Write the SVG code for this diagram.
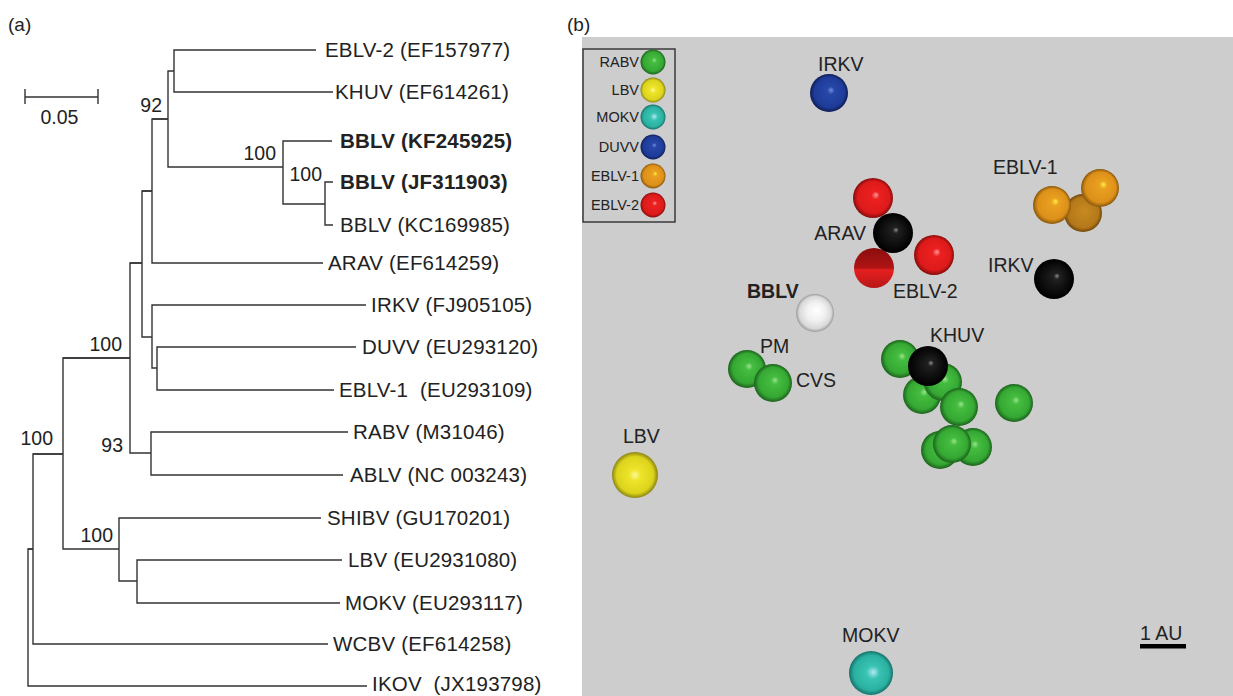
<svg xmlns="http://www.w3.org/2000/svg" width="1233" height="696" viewBox="0 0 1233 696">
<style>
.t{font-family:"Liberation Sans",Arial,sans-serif;font-size:20.5px;letter-spacing:0.2px;fill:#222;white-space:pre}
.b{font-weight:bold}
.bs{font-family:"Liberation Sans",Arial,sans-serif;font-size:19.5px;fill:#222;text-anchor:end}
.pl{font-family:"Liberation Sans",Arial,sans-serif;font-size:19px;fill:#222}
.lg{font-family:"Liberation Sans",Arial,sans-serif;font-size:14.5px;fill:#222;text-anchor:end}
.sb{font-family:"Liberation Sans",Arial,sans-serif;font-size:19.5px;fill:#222}
.br{fill:none;stroke:#333;stroke-width:1.4}
</style>
<defs>
<radialGradient id="gGreen" cx="0.5" cy="0.5" r="0.5" fx="0.56" fy="0.42"><stop offset="0" stop-color="#9be38c"/><stop offset="0.2" stop-color="#45bd40"/><stop offset="0.78" stop-color="#35a833"/><stop offset="1" stop-color="#1c621c"/></radialGradient>
<radialGradient id="gYellow" cx="0.5" cy="0.5" r="0.5" fx="0.5" fy="0.5"><stop offset="0" stop-color="#fbfa9a"/><stop offset="0.25" stop-color="#eee42a"/><stop offset="0.8" stop-color="#dcd31c"/><stop offset="1" stop-color="#8a8412"/></radialGradient>
<radialGradient id="gCyan" cx="0.5" cy="0.5" r="0.5" fx="0.56" fy="0.48"><stop offset="0" stop-color="#b5e6f5"/><stop offset="0.3" stop-color="#39c3b2"/><stop offset="0.8" stop-color="#2ab0a0"/><stop offset="1" stop-color="#16706a"/></radialGradient>
<radialGradient id="gBlue" cx="0.5" cy="0.5" r="0.5" fx="0.56" fy="0.42"><stop offset="0" stop-color="#6f8fe0"/><stop offset="0.2" stop-color="#2747a8"/><stop offset="0.8" stop-color="#1e3b98"/><stop offset="1" stop-color="#0e1d55"/></radialGradient>
<radialGradient id="gOrange" cx="0.5" cy="0.5" r="0.5" fx="0.6" fy="0.4"><stop offset="0" stop-color="#fff040"/><stop offset="0.2" stop-color="#eaa020"/><stop offset="0.8" stop-color="#dc901a"/><stop offset="1" stop-color="#8a560a"/></radialGradient>
<radialGradient id="gOrangeD" cx="0.5" cy="0.5" r="0.5" fx="0.55" fy="0.45"><stop offset="0" stop-color="#c88a20"/><stop offset="0.8" stop-color="#b4781a"/><stop offset="1" stop-color="#704808"/></radialGradient>
<radialGradient id="gRed" cx="0.5" cy="0.5" r="0.5" fx="0.58" fy="0.42"><stop offset="0" stop-color="#ff9a9a"/><stop offset="0.2" stop-color="#ec2020"/><stop offset="0.8" stop-color="#dd1a1a"/><stop offset="1" stop-color="#860c0c"/></radialGradient>
<linearGradient id="gRedD" x1="0" y1="0" x2="0" y2="1"><stop offset="0" stop-color="#8a0e0e"/><stop offset="0.5" stop-color="#b01414"/><stop offset="0.55" stop-color="#e52020"/><stop offset="1" stop-color="#b81616"/></linearGradient>
<radialGradient id="gBlack" cx="0.5" cy="0.5" r="0.5" fx="0.58" fy="0.42"><stop offset="0" stop-color="#8a8a8a"/><stop offset="0.15" stop-color="#202020"/><stop offset="1" stop-color="#000"/></radialGradient>
<radialGradient id="gWhite" cx="0.5" cy="0.5" r="0.5" fx="0.55" fy="0.42"><stop offset="0" stop-color="#ffffff"/><stop offset="0.5" stop-color="#f0f0f0"/><stop offset="0.85" stop-color="#d8d8d8"/><stop offset="1" stop-color="#9a9a9a"/></radialGradient>
</defs>
<rect x="0" y="0" width="1233" height="696" fill="#fff"/>

<!-- Panel (a) -->
<text class="pl" x="8" y="31">(a)</text>
<g id="scale-bar">
<path class="br" d="M25,89 V104 M25,97 H98 M98,89 V104"/>
<text class="sb" x="59.5" y="124" text-anchor="middle">0.05</text>
</g>
<g id="connectors">
<path class="br" d="M316,50 H174 V92 H333"/>
<path class="br" d="M174,71 H168 V167 H283"/>
<path class="br" d="M152,119 H168"/>
<path class="br" d="M332,141 H283 V204 H325"/>
<path class="br" d="M333,182 H325 V225 H333"/>
<path class="br" d="M168,119 H152 V263 H323"/>
<path class="br" d="M142,191 H152"/>
<path class="br" d="M152,191 H142 V337 H152"/>
<path class="br" d="M130,263 H142"/>
<path class="br" d="M366,305 H152 V368 H157"/>
<path class="br" d="M356,347 H157 V390 H334"/>
<path class="br" d="M142,263 H130 V453 H151"/>
<path class="br" d="M63,358 H130"/>
<path class="br" d="M348,432 H151 V475 H343"/>
<path class="br" d="M130,358 H63 V549 H119"/>
<path class="br" d="M33,454 H63"/>
<path class="br" d="M321,518 H119 V581 H137"/>
<path class="br" d="M342,560 H137 V603 H340"/>
<path class="br" d="M63,454 H33 V644 H328"/>
<path class="br" d="M28,549 H33"/>
<path class="br" d="M33,549 H28 V686 H367"/>
</g>
<g id="leaf-eblv2"><text class="t" x="325" y="57">EBLV-2 (EF157977)</text></g>
<g id="leaf-khuv"><text class="t" x="335" y="99">KHUV (EF614261)</text></g>
<g id="leaf-bblv-kf"><text class="t b" x="340" y="148">BBLV (KF245925)</text></g>
<g id="leaf-bblv-jf"><text class="t b" x="340" y="189">BBLV (JF311903)</text></g>
<g id="leaf-bblv-kc"><text class="t" x="340" y="232">BBLV (KC169985)</text></g>
<g id="leaf-arav"><text class="t" x="328" y="270">ARAV (EF614259)</text></g>
<g id="leaf-irkv"><text class="t" x="371" y="312">IRKV (FJ905105)</text></g>
<g id="leaf-duvv"><text class="t" x="362" y="354">DUVV (EU293120)</text></g>
<g id="leaf-eblv1"><text class="t" x="339" y="397">EBLV-1  (EU293109)</text></g>
<g id="leaf-rabv"><text class="t" x="353" y="439">RABV (M31046)</text></g>
<g id="leaf-ablv"><text class="t" x="350" y="482">ABLV (NC 003243)</text></g>
<g id="leaf-shibv"><text class="t" x="327" y="525">SHIBV (GU170201)</text></g>
<g id="leaf-lbv"><text class="t" x="348" y="567">LBV (EU2931080)</text></g>
<g id="leaf-mokv"><text class="t" x="345" y="610">MOKV (EU293117)</text></g>
<g id="leaf-wcbv"><text class="t" x="333" y="651">WCBV (EF614258)</text></g>
<g id="leaf-ikov"><text class="t" x="372" y="691">IKOV  (JX193798)</text></g>
<g id="bootstrap">
<text class="bs" x="162" y="112">92</text>
<text class="bs" x="276" y="160">100</text>
<text class="bs" x="322" y="181">100</text>
<text class="bs" x="122" y="351">100</text>
<text class="bs" x="53" y="445">100</text>
<text class="bs" x="123" y="452">93</text>
<text class="bs" x="113" y="542">100</text>
</g>

<!-- Panel (b) -->
<text class="pl" x="567" y="31">(b)</text>
<rect id="plot-bg" x="582" y="37" width="651" height="659" fill="#cdcdcd"/>
<g id="legend">
<rect x="583" y="49" width="92" height="173" fill="none" stroke="#3a3a3a" stroke-width="1.5"/>
<text class="lg" x="639" y="67">RABV</text><circle cx="653" cy="62" r="12.5" fill="url(#gGreen)"/>
<text class="lg" x="639" y="95">LBV</text><circle cx="653" cy="90" r="12.5" fill="url(#gYellow)"/>
<text class="lg" x="639" y="122">MOKV</text><circle cx="653" cy="117" r="12.5" fill="url(#gCyan)"/>
<text class="lg" x="639" y="152">DUVV</text><circle cx="653" cy="147" r="12.5" fill="url(#gBlue)"/>
<text class="lg" x="639" y="181">EBLV-1</text><circle cx="653" cy="176" r="12.5" fill="url(#gOrange)"/>
<text class="lg" x="639" y="210">EBLV-2</text><circle cx="653" cy="205" r="12.5" fill="url(#gRed)"/>
</g>
<g id="irkv-blue">
<text class="sb" x="818" y="71">IRKV</text>
<circle cx="829" cy="93" r="19" fill="url(#gBlue)"/>
</g>
<g id="eblv2-arav">
<circle cx="873" cy="198" r="20" fill="url(#gRed)"/>
<circle cx="874" cy="268" r="20" fill="url(#gRedD)"/>
<circle cx="893" cy="233" r="20" fill="url(#gBlack)"/>
<circle cx="934" cy="255" r="20" fill="url(#gRed)"/>
<text class="sb" x="866" y="240" text-anchor="end">ARAV</text>
<text class="sb" x="893" y="298">EBLV-2</text>
</g>
<g id="eblv1">
<text class="sb" x="993" y="174">EBLV-1</text>
<circle cx="1083" cy="213" r="19" fill="url(#gOrangeD)"/>
<circle cx="1052" cy="205" r="19" fill="url(#gOrange)"/>
<circle cx="1100" cy="188" r="19" fill="url(#gOrange)"/>
</g>
<g id="irkv-black">
<text class="sb" x="988" y="272">IRKV</text>
<circle cx="1054" cy="279" r="20" fill="url(#gBlack)"/>
</g>
<g id="bblv">
<text class="sb b" x="747" y="298">BBLV</text>
<circle cx="815" cy="313" r="19" fill="url(#gWhite)"/>
</g>
<g id="pm-cvs">
<circle cx="747" cy="369" r="19" fill="url(#gGreen)"/>
<circle cx="773" cy="383" r="19" fill="url(#gGreen)"/>
<text class="sb" x="760" y="353">PM</text>
<text class="sb" x="796" y="387">CVS</text>
</g>
<g id="khuv-cluster">
<circle cx="900" cy="359" r="19" fill="url(#gGreen)"/>
<circle cx="922" cy="395" r="19" fill="url(#gGreen)"/>
<circle cx="943" cy="382" r="19" fill="url(#gGreen)"/>
<circle cx="959" cy="407" r="19" fill="url(#gGreen)"/>
<circle cx="928" cy="366" r="20" fill="url(#gBlack)"/>
<circle cx="1014" cy="403" r="19" fill="url(#gGreen)"/>
<circle cx="940" cy="450" r="19" fill="url(#gGreen)"/>
<circle cx="973" cy="447" r="19" fill="url(#gGreen)"/>
<circle cx="952" cy="444" r="19" fill="url(#gGreen)"/>
<text class="sb" x="930" y="342">KHUV</text>
</g>
<g id="lbv">
<text class="sb" x="623" y="443">LBV</text>
<circle cx="635" cy="475" r="23" fill="url(#gYellow)"/>
</g>
<g id="mokv">
<text class="sb" x="842" y="642">MOKV</text>
<circle cx="871" cy="673" r="22" fill="url(#gCyan)"/>
</g>
<g id="au-scale">
<text class="sb" x="1140" y="640">1 AU</text>
<rect x="1140" y="644" width="46" height="4.5" fill="#000"/>
</g>
</svg>
